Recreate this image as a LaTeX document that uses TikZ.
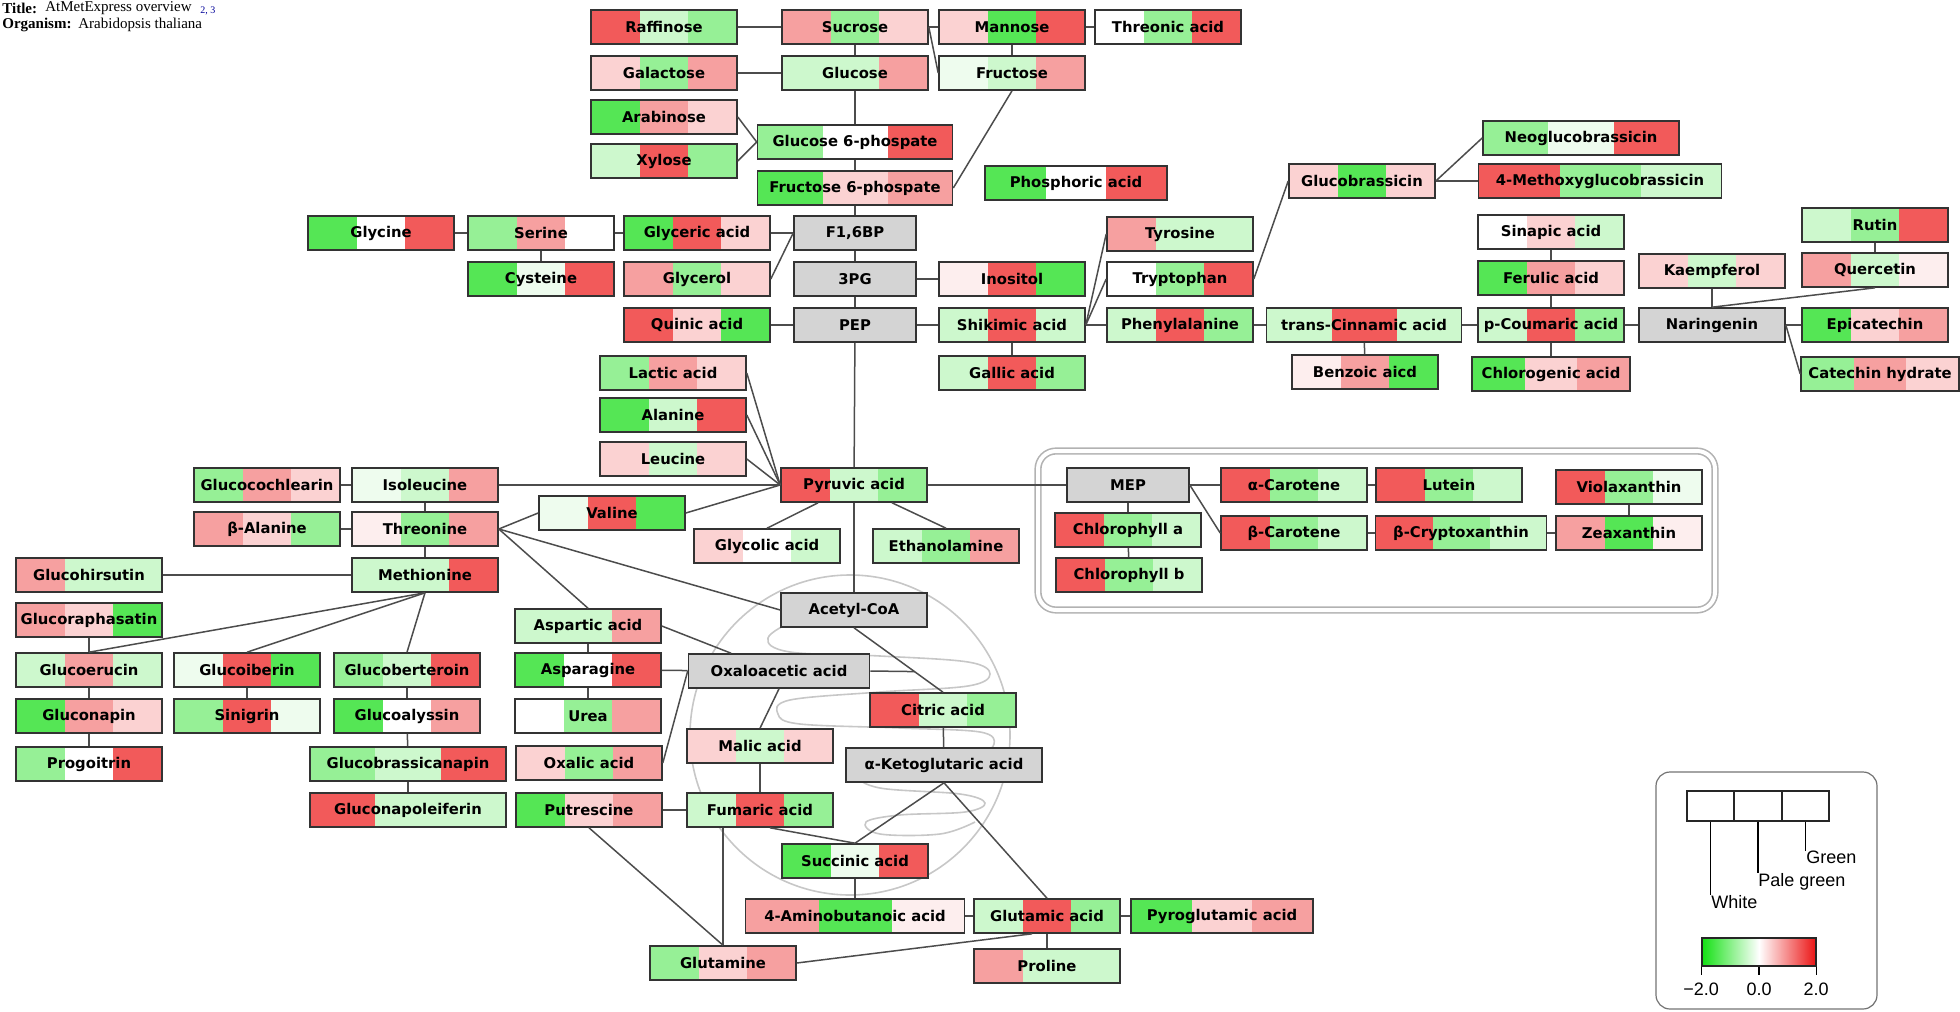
\documentclass[tikz,border=0pt]{standalone}
\usepackage{fontspec}
\setmainfont{Liberation Serif}
\newfontfamily\metfont{DejaVu Sans}
\newfontfamily\legfont{Liberation Sans}
\newcommand\metsize{\fontsize{7.4}{8.5}\selectfont}
\definecolor{R3}{RGB}{242,90,90}
\definecolor{R2}{RGB}{246,160,160}
\definecolor{R1}{RGB}{251,210,210}
\definecolor{R0}{RGB}{253,238,238}
\definecolor{W}{RGB}{255,255,255}
\definecolor{G0}{RGB}{238,252,238}
\definecolor{G1}{RGB}{205,248,205}
\definecolor{G2}{RGB}{150,240,150}
\definecolor{G3}{RGB}{85,230,85}
\definecolor{LG}{RGB}{20,225,20}
\definecolor{LR}{RGB}{235,20,20}

\begin{document}
\begin{tikzpicture}[
  x=0.5pt, y=-0.5pt,
  met/.style n args={3}{draw=black!80, line width=0.8pt, minimum width=73pt,
              minimum height=17pt, inner sep=0pt, font=\metfont\bfseries\metsize,
              path picture={
                \coordinate (bl) at (path picture bounding box.south west);
                \coordinate (tr) at (path picture bounding box.north east);
                \path (bl) -- (tr) coordinate[pos=0.3333] (c1) coordinate[pos=0.6667] (c2);
                \fill[#1] (bl) rectangle (c1 |- tr);
                \fill[#2] (c1 |- bl) rectangle (c2 |- tr);
                \fill[#3] (c2 |- bl) rectangle (tr);
              }},
  core/.style={draw=black!80, line width=0.8pt, fill=black!17, minimum width=61pt,
               minimum height=17pt, inner sep=0pt, font=\metfont\bfseries\metsize},
  link/.style={draw=black!70, line width=0.75pt},
  mito/.style={draw=black!22, line width=0.8pt},
  plastid/.style={draw=black!30, double=white, double distance=2pt, line width=0.8pt,
                  rounded corners=9pt},
  hdr/.style={anchor=west, inner sep=0pt, font=\fontsize{7.5}{9}\selectfont},
  legbox/.style={draw=black!85, line width=0.6pt, minimum width=23.5pt,
                 minimum height=15pt, inner sep=0pt},
  leglabel/.style={anchor=north west, inner sep=0pt, font=\legfont\fontsize{9}{10}\selectfont},
  legnum/.style={inner sep=0pt, font=\legfont\fontsize{9}{10}\selectfont}
]
\useasboundingbox (0,0) rectangle (1960,1012);

\node[hdr, font=\bfseries\fontsize{7.5}{9}\selectfont] (titlekey) at (2,8) {Title:};
\node[hdr] (titleval) at (45,8) {AtMetExpress overview};
\node[hdr, font=\fontsize{5}{6}\selectfont, text=blue!60!black] (refs) at (200,11) {2, 3};
\node[hdr, font=\bfseries\fontsize{7.5}{9}\selectfont] (orgkey) at (2,25) {Organism:};
\node[hdr] (orgval) at (78,25) {Arabidopsis thaliana};

\draw[mito] (850,735) circle[radius=160];
\draw[mito] plot[smooth, tension=0.6] coordinates {(858,598) (800,618) (768,638) (790,652)
  (880,656) (968,662) (990,674) (968,686) (880,692) (790,700) (778,714) (800,724) (900,728)
  (980,732) (994,744) (975,754) (900,762) (860,775) (880,788) (960,794) (985,803) (965,812)
  (900,815) (866,822) (880,834) (940,834) (975,822)};
\draw[plastid] (1038,451) rectangle (1715,610);

\node[met={R3}{G1}{G2}] (raffinose) at (664,27) {Raffinose};
\node[met={R2}{G2}{R1}] (sucrose) at (855,27) {Sucrose};
\node[met={R1}{G3}{R3}] (mannose) at (1012,27) {Mannose};
\node[met={W}{G2}{R3}] (threonic) at (1168,27) {Threonic acid};
\node[met={R1}{G2}{R2}] (galactose) at (664,73) {Galactose};
\node[met={G1}{G1}{R2}] (glucose) at (855,73) {Glucose};
\node[met={G0}{G1}{R2}] (fructose) at (1012,73) {Fructose};
\node[met={G3}{R2}{R1}] (arabinose) at (664,117) {Arabinose};
\node[met={G1}{R3}{G2}] (xylose) at (664,161) {Xylose};
\node[met={G2}{W}{R3}, minimum width=97.5pt] (g6p) at (855,142) {Glucose 6-phospate};
\node[met={G3}{R1}{R2}, minimum width=97.5pt] (f6p) at (855,188) {Fructose 6-phospate};
\node[met={G3}{W}{R3}, minimum width=91pt] (phosphoric) at (1076,183) {Phosphoric acid};
\node[met={G3}{W}{R3}] (glycine) at (381,233) {Glycine};
\node[met={G2}{R2}{W}] (serine) at (541,233) {Serine};
\node[met={G3}{G0}{R3}] (cysteine) at (541,279) {Cysteine};
\node[met={G3}{R3}{R1}] (glyceric) at (697,233) {Glyceric acid};
\node[met={R2}{G2}{R1}] (glycerol) at (697,279) {Glycerol};
\node[met={R3}{R1}{G3}] (quinic) at (697,325) {Quinic acid};
\node[core] (f16bp) at (855,233) {F1,6BP};
\node[core] (pg3) at (855,279) {3PG};
\node[core] (pep) at (855,325) {PEP};
\node[met={R0}{R3}{G3}] (inositol) at (1012,279) {Inositol};
\node[met={G1}{R3}{G1}] (shikimic) at (1012,325) {Shikimic acid};
\node[met={G1}{R3}{G2}] (gallic) at (1012,373) {Gallic acid};
\node[met={R2}{G1}{G1}] (tyrosine) at (1180,234) {Tyrosine};
\node[met={W}{G2}{R3}] (tryptophan) at (1180,279) {Tryptophan};
\node[met={G1}{R3}{G2}] (phenylalanine) at (1180,325) {Phenylalanine};
\node[met={G1}{R3}{G1}, minimum width=97.5pt] (cinnamic) at (1364,325) {trans-Cinnamic acid};
\node[met={R0}{R2}{G3}] (benzoic) at (1365,372) {Benzoic aicd};
\node[met={R1}{G3}{R1}] (glucobrassicin) at (1362,181) {Glucobrassicin};
\node[met={G2}{G0}{R3}, minimum width=98pt] (neoglucobrassicin) at (1581,138) {Neoglucobrassicin};
\node[met={R3}{G2}{G1}, minimum width=121.5pt] (methoxy) at (1600,181) {4-Methoxyglucobrassicin};
\node[met={W}{R1}{G1}] (sinapic) at (1551,232) {Sinapic acid};
\node[met={G3}{R2}{R1}] (ferulic) at (1551,278) {Ferulic acid};
\node[met={G1}{R3}{G2}] (coumaric) at (1551,325) {p-Coumaric acid};
\node[met={G3}{R1}{R2}, minimum width=79pt] (chlorogenic) at (1551,374) {Chlorogenic acid};
\node[met={R1}{G1}{R1}] (kaempferol) at (1712,271) {Kaempferol};
\node[core, minimum width=73pt] (naringenin) at (1712,325) {Naringenin};
\node[met={G1}{G2}{R3}] (rutin) at (1875,225) {Rutin};
\node[met={R2}{G1}{R0}] (quercetin) at (1875,270) {Quercetin};
\node[met={G3}{R1}{R2}] (epicatechin) at (1875,325) {Epicatechin};
\node[met={G2}{R2}{R1}, minimum width=79pt] (catechin) at (1880,374) {Catechin hydrate};

\node[met={G2}{R2}{R1}] (lactic) at (673,373) {Lactic acid};
\node[met={G3}{G1}{R3}] (alanine) at (673,415) {Alanine};
\node[met={R1}{G1}{R1}] (leucine) at (673,459) {Leucine};
\node[met={R3}{G1}{G2}] (pyruvic) at (854,485) {Pyruvic acid};
\node[met={G0}{R3}{G3}] (valine) at (612,513) {Valine};
\node[met={R1}{W}{G1}] (glycolic) at (767,546) {Glycolic acid};
\node[met={G1}{G2}{R2}] (ethanolamine) at (946,546) {Ethanolamine};
\node[core, minimum width=73pt] (acetylcoa) at (854,610) {Acetyl-CoA};
\node[met={G2}{R2}{R1}] (glucocochlearin) at (267,485) {Glucocochlearin};
\node[met={G0}{G1}{R2}] (isoleucine) at (425,485) {Isoleucine};
\node[met={R2}{R1}{G2}] (balanine) at (267,529) {β-Alanine};
\node[met={R0}{G2}{R2}] (threonine) at (425,529) {Threonine};
\node[met={R2}{G1}{G1}] (glucohirsutin) at (89,575) {Glucohirsutin};
\node[met={G1}{G1}{R3}] (methionine) at (425,575) {Methionine};
\node[met={R2}{R1}{G3}] (glucoraphasatin) at (89,620) {Glucoraphasatin};
\node[met={G1}{R2}{G1}] (glucoerucin) at (89,670) {Glucoerucin};
\node[met={G0}{R3}{G3}] (glucoiberin) at (247,670) {Glucoiberin};
\node[met={G2}{G1}{R3}] (glucoberteroin) at (407,670) {Glucoberteroin};
\node[met={G3}{R2}{R1}] (gluconapin) at (89,716) {Gluconapin};
\node[met={G2}{R3}{G0}] (sinigrin) at (247,716) {Sinigrin};
\node[met={G3}{W}{R2}] (glucoalyssin) at (407,716) {Glucoalyssin};
\node[met={G2}{W}{R3}] (progoitrin) at (89,764) {Progoitrin};
\node[met={G2}{G1}{R3}, minimum width=98pt] (glucobrassicanapin) at (408,764) {Glucobrassicanapin};
\node[met={R3}{G1}{G1}, minimum width=98pt] (gluconapoleiferin) at (408,810) {Gluconapoleiferin};

\node[met={G1}{G1}{R2}] (aspartic) at (588,626) {Aspartic acid};
\node[met={G3}{W}{R3}] (asparagine) at (588,670) {Asparagine};
\node[met={W}{G2}{R2}] (urea) at (588,716) {Urea};
\node[met={R1}{G2}{R2}] (oxalic) at (589,763) {Oxalic acid};
\node[met={G3}{R1}{R2}] (putrescine) at (589,810) {Putrescine};
\node[core, minimum width=90.5pt] (oxaloacetic) at (779,671) {Oxaloacetic acid};
\node[met={R1}{G1}{R1}] (malic) at (760,746) {Malic acid};
\node[met={G1}{R3}{G2}] (fumaric) at (760,810) {Fumaric acid};
\node[met={G3}{G0}{R3}] (succinic) at (855,861) {Succinic acid};
\node[met={R2}{G3}{R0}, minimum width=109.5pt] (gaba) at (855,916) {4-Aminobutanoic acid};
\node[met={G2}{R1}{R2}] (glutamine) at (723,963) {Glutamine};
\node[met={R3}{G1}{G2}] (citric) at (943,710) {Citric acid};
\node[core, minimum width=98pt] (akg) at (944,765) {α-Ketoglutaric acid};
\node[met={G1}{R3}{G2}] (glutamic) at (1047,916) {Glutamic acid};
\node[met={G3}{R1}{R2}, minimum width=91pt] (pyroglutamic) at (1222,916) {Pyroglutamic acid};
\node[met={R2}{G1}{G1}] (proline) at (1047,966) {Proline};

\node[core] (mep) at (1128,485) {MEP};
\node[met={R3}{G2}{G1}] (acarotene) at (1294,485) {α-Carotene};
\node[met={R3}{G2}{G1}] (lutein) at (1449,485) {Lutein};
\node[met={R3}{G2}{G0}] (violaxanthin) at (1629,487) {Violaxanthin};
\node[met={R3}{G2}{G1}] (chla) at (1128,530) {Chlorophyll a};
\node[met={R3}{G2}{G1}] (chlb) at (1129,575) {Chlorophyll b};
\node[met={R3}{G2}{G1}] (bcarotene) at (1294,533) {β-Carotene};
\node[met={R3}{G2}{G1}, minimum width=85.5pt] (bcrypto) at (1461,533) {β-Cryptoxanthin};
\node[met={R2}{G3}{R0}] (zeaxanthin) at (1629,533) {Zeaxanthin};

\draw[link] (raffinose) -- (sucrose);
\draw[link] (galactose) -- (glucose);
\draw[link] (sucrose) -- (glucose);
\draw[link] (sucrose) -- (mannose);
\draw[link] (sucrose.east) -- (fructose.west);
\draw[link] (mannose) -- (fructose);
\draw[link] (mannose) -- (threonic);
\draw[link] (glucose) -- (g6p);
\draw[link] (arabinose.east) -- (g6p.west);
\draw[link] (xylose.east) -- (g6p.west);
\draw[link] (g6p) -- (f6p);
\draw[link] (fructose.south) -- (f6p.east);
\draw[link] (f6p) -- (f16bp);
\draw[link] (f16bp) -- (pg3);
\draw[link] (pg3) -- (pep);
\draw[link] (glyceric) -- (f16bp);
\draw[link] (glycerol.east) -- (f16bp.west);
\draw[link] (glycine) -- (serine);
\draw[link] (serine) -- (glyceric);
\draw[link] (serine) -- (cysteine);
\draw[link] (pg3) -- (inositol);
\draw[link] (quinic) -- (pep);
\draw[link] (pep) -- (shikimic);
\draw[link] (shikimic) -- (gallic);
\draw[link] (shikimic.east) -- (tyrosine.west);
\draw[link] (shikimic.east) -- (tryptophan.west);
\draw[link] (shikimic) -- (phenylalanine);
\draw[link] (phenylalanine) -- (cinnamic);
\draw[link] (cinnamic) -- (benzoic);
\draw[link] (tryptophan.east) -- (glucobrassicin.west);
\draw[link] (glucobrassicin.east) -- (neoglucobrassicin.west);
\draw[link] (glucobrassicin) -- (methoxy);
\draw[link] (cinnamic) -- (coumaric);
\draw[link] (sinapic) -- (ferulic);
\draw[link] (ferulic) -- (coumaric);
\draw[link] (coumaric) -- (chlorogenic);
\draw[link] (coumaric) -- (naringenin);
\draw[link] (kaempferol) -- (naringenin);
\draw[link] (quercetin.south) -- (naringenin.north);
\draw[link] (rutin) -- (quercetin);
\draw[link] (naringenin) -- (epicatechin);
\draw[link] (naringenin.east) -- (catechin.west);

\draw[link] (pep) -- (pyruvic);
\draw[link] (lactic.east) -- (pyruvic.west);
\draw[link] (alanine.east) -- (pyruvic.west);
\draw[link] (leucine.east) -- (pyruvic.west);
\draw[link] (isoleucine) -- (pyruvic);
\draw[link] (valine.east) -- (pyruvic.west);
\draw[link] (pyruvic) -- (mep);
\draw[link] ([xshift=-18pt]pyruvic.south) -- (glycolic.north);
\draw[link] ([xshift=19pt]pyruvic.south) -- (ethanolamine.north);
\draw[link] (pyruvic) -- (acetylcoa);
\draw[link] (glucocochlearin) -- (isoleucine);
\draw[link] (isoleucine) -- (threonine);
\draw[link] (balanine) -- (threonine);
\draw[link] (threonine) -- (methionine);
\draw[link] (glucohirsutin) -- (methionine);
\draw[link] (threonine.east) -- (valine.west);
\draw[link] (threonine.east) -- (aspartic.north);
\draw[link] (threonine.east) -- (acetylcoa.west);
\draw[link] (methionine.south) -- (glucoerucin.north);
\draw[link] (methionine.south) -- (glucoiberin.north);
\draw[link] (methionine.south) -- (glucoberteroin.north);
\draw[link] (glucoraphasatin) -- (glucoerucin);
\draw[link] (glucoerucin) -- (gluconapin);
\draw[link] (gluconapin) -- (progoitrin);
\draw[link] (glucoiberin) -- (sinigrin);
\draw[link] (glucoberteroin) -- (glucoalyssin);
\draw[link] (glucoalyssin) -- (glucobrassicanapin);
\draw[link] (glucobrassicanapin) -- (gluconapoleiferin);

\draw[link] (aspartic) -- (asparagine);
\draw[link] (aspartic.east) -- ([xshift=-24pt]oxaloacetic.north);
\draw[link] (asparagine) -- (oxaloacetic);
\draw[link] (asparagine) -- (urea);
\draw[link] (oxalic.east) -- (oxaloacetic.west);
\draw[link] (putrescine) -- (fumaric);
\draw[link] (oxaloacetic.south) -- (malic.north);
\draw[link] (malic) -- (fumaric);
\draw[link] ([xshift=5pt]fumaric.south) -- (succinic.north);
\draw[link] (putrescine.south) -- (glutamine.north);
\draw[link] (glutamine.north |- fumaric.south) -- (glutamine.north);
\draw[link] (acetylcoa.south) -- (citric.north) coordinate[pos=0.68] (tcajoin);
\draw[link] (oxaloacetic.east) -- (tcajoin);
\draw[link] (citric) -- (akg);
\draw[link] (akg.south) -- (succinic.north);
\draw[link] (akg.south) -- (glutamic.north);
\draw[link] (succinic) -- (gaba);
\draw[link] (gaba) -- (glutamic);
\draw[link] (glutamic) -- (pyroglutamic);
\draw[link] (glutamic) -- (proline);
\draw[link] (glutamine.east) -- ([xshift=-7.5pt]glutamic.south);

\draw[link] (mep) -- (acarotene);
\draw[link] (mep.east) -- (bcarotene.west);
\draw[link] (mep) -- (chla);
\draw[link] (chla) -- (chlb);
\draw[link] (acarotene) -- (lutein);
\draw[link] (bcarotene) -- (bcrypto);
\draw[link] (bcrypto) -- (zeaxanthin);
\draw[link] (violaxanthin) -- (zeaxanthin);

\draw[draw=black!55, line width=0.6pt, rounded corners=7pt] (1656,772) rectangle (1877,1009);
\node[legbox] (legw) at (1710.5,806) {};
\node[legbox] (legp) at (1758,806) {};
\node[legbox] (legg) at (1805.5,806) {};
\node[leglabel] (labw) at (1711,895) {White};
\node[leglabel] (labp) at (1758,873) {Pale green};
\node[leglabel] (labg) at (1806,851) {Green};
\draw[line width=0.6pt] (legw.south) -- (legw.south |- labw.north);
\draw[line width=0.6pt] (legp.south) -- (legp.south |- labp.north);
\draw[line width=0.6pt] (legg.south) -- (legg.south |- labg.north);
\node[draw=black!85, line width=0.6pt, left color=LG, right color=LR, middle color=white,
      minimum width=57pt, minimum height=14pt, inner sep=0pt] (cbar) at (1759,952) {};
\draw[line width=0.6pt] (cbar.south west) -- ++(0,8);
\draw[line width=0.6pt] (cbar.south) -- ++(0,8);
\draw[line width=0.6pt] (cbar.south east) -- ++(0,8);
\node[legnum] (lmin) at (1701,989) {−2.0};
\node[legnum] (lmid) at (1759,989) {0.0};
\node[legnum] (lmax) at (1816,989) {2.0};
\end{tikzpicture}
\end{document}
